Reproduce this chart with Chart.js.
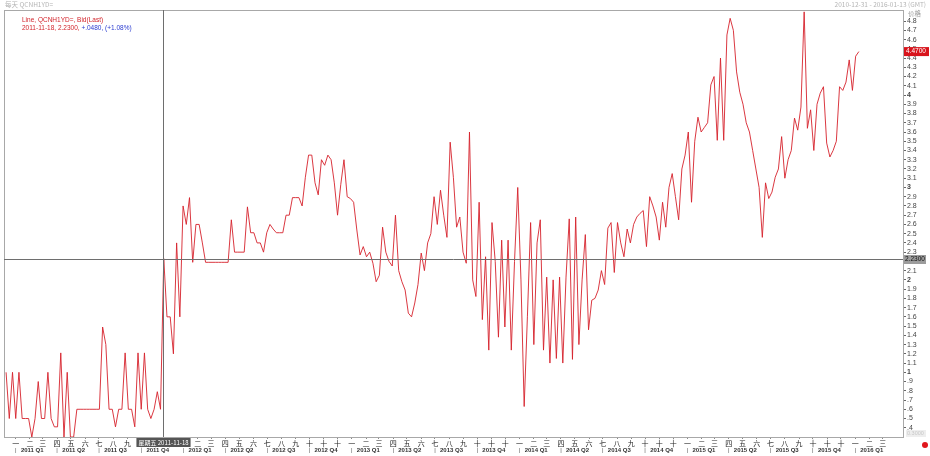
<!DOCTYPE html>
<html>
<head>
<meta charset="utf-8">
<script src="https://cdn.jsdelivr.net/npm/chart.js@4.4.1/dist/chart.umd.min.js"></script>
<style>
  html, body { margin: 0; padding: 0; background: #fff; }
</style>
</head>
<body>
<canvas id="myChart" width="930" height="456"></canvas>
<script>
// month labels on the lower axis (the chart only shows the first glyph)
var monthNames = ['一', '二', '三', '四', '五', '六', '七', '八', '九', '十', '十', '十'];
var quarterYears = [2011, 2012, 2013, 2014, 2015, 2016];
var yTicks = [0.4, 0.5, 0.6, 0.7, 0.8, 0.9, 1, 1.1, 1.2, 1.3, 1.4, 1.5, 1.6, 1.7, 1.8, 1.9,
    2, 2.1, 2.2, 2.3, 2.4, 2.5, 2.6, 2.7, 2.8, 2.9, 3, 3.1, 3.2, 3.3, 3.4, 3.5, 3.6, 3.7,
    3.8, 3.9, 4, 4.1, 4.2, 4.3, 4.4, 4.5, 4.6, 4.7, 4.8];

// weekly samples of QCNH1YD= bid, first one on 2010-12-11
var startDate = [2010, 11, 11];
var values = [
    1.0, 0.5, 1.0, 0.5, 1.0, 0.5, 0.5, 0.5, 0.3, 0.5,
    0.9, 0.5, 0.5, 1.0, 0.5, 0.41, 0.41, 1.21, 0.3, 1.0,
    0.3, 0.3, 0.6, 0.6, 0.6, 0.6, 0.6, 0.6, 0.6, 0.6,
    1.49, 1.3, 0.6, 0.6, 0.41, 0.6, 0.6, 1.21, 0.6, 0.6,
    0.41, 1.21, 0.6, 1.21, 0.6, 0.5, 0.6, 0.79, 0.6, 2.23,
    1.6, 1.6, 1.2, 2.4, 1.6, 2.8, 2.6, 2.89, 2.19, 2.6,
    2.6, 2.4, 2.19, 2.19, 2.19, 2.19, 2.19, 2.19, 2.19, 2.19,
    2.65, 2.3, 2.3, 2.3, 2.3, 2.79, 2.51, 2.51, 2.4, 2.4,
    2.3, 2.51, 2.6, 2.55, 2.51, 2.51, 2.51, 2.7, 2.7, 2.89,
    2.89, 2.89, 2.8, 3.11, 3.35, 3.35, 3.05, 2.92, 3.3, 3.24,
    3.35, 3.3, 3.05, 2.7, 3.03, 3.3, 2.9, 2.88, 2.84, 2.54,
    2.27, 2.36, 2.25, 2.3, 2.18, 1.98, 2.05, 2.57, 2.3, 2.2,
    2.15, 2.7, 2.1, 1.98, 1.89, 1.64, 1.6, 1.75, 1.95, 2.29,
    2.1, 2.4, 2.5, 2.9, 2.6, 2.97, 2.7, 2.46, 3.49, 3.11,
    2.57, 2.68, 2.3, 2.18, 3.6, 2.0, 1.82, 2.84, 1.57, 2.25,
    1.24, 2.62, 2.2, 1.38, 2.43, 1.49, 2.43, 1.24, 2.2, 3.0,
    2.0, 0.63, 1.6, 2.62, 1.3, 2.4, 2.65, 1.24, 2.03, 1.1,
    2.0, 1.15, 2.03, 1.1, 2.03, 2.66, 1.14, 2.68, 1.3, 2.0,
    2.49, 1.46, 1.78, 1.8, 1.89, 2.1, 1.95, 2.56, 2.62, 2.08,
    2.62, 2.4, 2.25, 2.55, 2.4, 2.6, 2.68, 2.72, 2.75, 2.36,
    2.9, 2.8, 2.68, 2.43, 2.84, 2.57, 3.0, 3.15, 2.9, 2.65,
    3.2, 3.35, 3.6, 2.84, 3.5, 3.76, 3.6, 3.65, 3.7, 4.11,
    4.2, 3.51, 4.4, 3.51, 4.65, 4.83, 4.7, 4.25, 4.03, 3.9,
    3.7, 3.6, 3.4, 3.2, 3.0, 2.46, 3.05, 2.88, 2.95, 3.11,
    3.2, 3.55, 3.1, 3.3, 3.4, 3.75, 3.62, 3.87, 4.9, 3.64,
    3.84, 3.4, 3.9, 4.02, 4.09, 3.48, 3.33, 3.4, 3.5, 4.09,
    4.05, 4.14, 4.38, 4.05, 4.42, 4.47
];

// crosshair readout
var crossDate = [2011, 10, 18];
var crossValue = 2.23;
var crossText = '2011-11-18, 2.2300, ';
var crossChange = '+.0480, (+1.08%)';

function dayOf(y, m, d) {
    return (Date.UTC(y, m, d) - Date.UTC(2011, 0, 1)) / 864e5;
}

var xMin = -25.5, xMax = 1930;
var lastLabelDay = dayOf(2016, 2, 1);
var startDay = dayOf(startDate[0], startDate[1], startDate[2]);
var points = [];
for (var i = 0; i < values.length; i++) {
    points.push({ x: startDay + 7 * i, y: values[i] });
}

var monthTicks = [];
var quarterTicks = [];
quarterYears.forEach(function (yr) {
    for (var m = 0; m < 12; m++) {
        var d = dayOf(yr, m, 1);
        if (d > lastLabelDay) break;
        monthTicks.push({ value: d, label: monthNames[m] });
        if (m % 3 == 0) {
            quarterTicks.push({ value: d, label: '|' });
            quarterTicks.push({ value: d + 36, label: yr + ' Q' + (m / 3 + 1) });
        }
    }
});

function yLabel(v) {
    var s = String(Math.round(v * 10) / 10);
    if (v < 1) s = s.replace(/^0/, '');
    return s;
}

var decor = {
    id: 'decor',
    beforeDraw: function (chart) {
        var c = chart.ctx;
        c.save();
        c.fillStyle = '#fff';
        c.fillRect(0, 0, chart.width, chart.height);
        c.font = '6.5px "Noto Sans CJK SC", "Liberation Sans"';
        c.fillStyle = '#b4b4b4';
        c.textBaseline = 'middle';
        c.textAlign = 'left';
        c.fillText('每天 QCNH1YD=', 5, 4.5);
        c.textAlign = 'right';
        c.fillText('2010-12-31 - 2016-01-13 (GMT)', 926, 4.5);
        c.restore();
    },
    afterDatasetsDraw: function (chart) {
        var c = chart.ctx, a = chart.chartArea;
        var xs = chart.scales.x, ys = chart.scales.y;
        c.save();
        // frame
        c.strokeStyle = '#a8a8a8';
        c.lineWidth = 1;
        c.strokeRect(a.left + 0.5, a.top + 0.5, a.right - a.left, a.bottom - a.top);

        // quarter row under the month labels
        c.textBaseline = 'middle';
        c.textAlign = 'center';
        quarterTicks.forEach(function (t) {
            var px = xs.getPixelForValue(t.value);
            if (px < a.left || px > a.right) return;
            if (t.label == '|') {
                c.fillStyle = '#555';
                c.font = '6px "Liberation Sans"';
            } else {
                c.fillStyle = '#333';
                c.font = 'bold 6px "Liberation Sans"';
            }
            c.fillText(t.label, px, 450.5);
        });

        // crosshair
        var cx = Math.round(xs.getPixelForValue(dayOf(crossDate[0], crossDate[1], crossDate[2]))) + 0.5;
        var cy = Math.round(ys.getPixelForValue(crossValue)) + 0.5;
        c.strokeStyle = '#6e6e6e';
        c.beginPath();
        c.moveTo(cx, a.top);
        c.lineTo(cx, a.bottom);
        c.moveTo(a.left, cy);
        c.lineTo(a.right, cy);
        c.stroke();

        // legend text
        c.font = '6.5px "Liberation Sans"';
        c.textBaseline = 'middle';
        c.textAlign = 'left';
        c.fillStyle = '#d2232a';
        c.fillText('Line, QCNH1YD=, Bid(Last)', 22, 20.5);
        c.fillText(crossText, 22, 28);
        var w = c.measureText(crossText).width;
        c.fillStyle = '#2a3bd0';
        c.fillText(crossChange, 22 + w, 28);

        // axis title
        c.fillStyle = '#9a9a9a';
        c.font = '6.5px "Noto Sans CJK SC"';
        c.fillText('价格', 908, 13.5);

        // value badge at crosshair
        c.fillStyle = '#9c9c9c';
        c.fillRect(904, cy - 4.5, 22, 9);
        c.fillStyle = '#111';
        c.font = '6.5px "Liberation Sans"';
        c.fillText(crossValue.toFixed(4), 905, cy);

        // last value badge
        var last = values[values.length - 1];
        var ly = ys.getPixelForValue(last);
        c.fillStyle = '#d8141c';
        c.fillRect(904, ly - 4.5, 25, 9);
        c.fillStyle = '#fff';
        c.fillText(last.toFixed(4), 906, ly);

        // lower right faint readout
        c.fillStyle = '#eeeeee';
        c.fillRect(906, 430, 20, 7);
        c.fillStyle = '#c8c8c8';
        c.font = '5.5px "Liberation Sans"';
        c.fillText('0.3000', 907, 433.5);

        // date badge on the time axis
        c.font = '6px "Noto Sans CJK SC", "Liberation Sans"';
        var txt = '星期五 2011-11-18';
        var tw = c.measureText(txt).width + 4;
        c.fillStyle = '#555';
        c.fillRect(cx - tw / 2, a.bottom + 1, tw, 9);
        c.fillStyle = '#fff';
        c.textAlign = 'center';
        c.fillText(txt, cx, a.bottom + 5.5);

        // red dot
        c.fillStyle = '#e0161c';
        c.beginPath();
        c.arc(925, 445, 3, 0, Math.PI * 2);
        c.fill();
        c.restore();
    }
};

var ctx = document.getElementById('myChart').getContext('2d');
var chart = new Chart(ctx, {
    type: 'line',
    data: {
        datasets: [{
            label: 'QCNH1YD=',
            data: points,
            borderColor: 'rgba(214, 34, 44, 0.9)',
            borderWidth: 1,
            pointRadius: 0,
            tension: 0,
            fill: false
        }]
    },
    options: {
        responsive: false,
        animation: false,
        devicePixelRatio: 1,
        layout: { padding: { left: 4, top: 10, right: 0, bottom: 0 } },
        plugins: { legend: { display: false }, tooltip: { enabled: false } },
        scales: {
            x: {
                type: 'linear',
                position: 'bottom',
                min: xMin,
                max: xMax,
                afterBuildTicks: function (s) {
                    s.ticks = monthTicks.map(function (t) { return { value: t.value }; });
                },
                afterFit: function (s) { s.height = 19; },
                ticks: {
                    autoSkip: false,
                    maxRotation: 0,
                    padding: 0,
                    color: '#222',
                    font: { family: '"Noto Sans CJK SC"', size: 7 },
                    callback: function (v, i) { return monthTicks[i].label; }
                },
                grid: { drawOnChartArea: false, tickLength: 2, color: '#8a8a8a' },
                border: { display: false }
            },
            y: {
                type: 'linear',
                position: 'right',
                min: 0.3,
                max: 4.92,
                afterBuildTicks: function (s) {
                    s.ticks = yTicks.map(function (v) { return { value: v }; });
                },
                afterFit: function (s) { s.width = 27; },
                ticks: {
                    autoSkip: false,
                    padding: 1,
                    color: '#444',
                    font: function (c) {
                        var v = c.tick ? c.tick.value : 0;
                        var whole = Math.abs(v - Math.round(v)) < 1e-6;
                        return { family: '"Liberation Sans"', size: 7, weight: whole ? 'bold' : 'normal' };
                    },
                    callback: function (v) { return yLabel(v); }
                },
                grid: { drawOnChartArea: false, tickLength: 3, color: '#666' },
                border: { display: false }
            }
        }
    },
    plugins: [decor]
});
</script>
</body>
</html>
